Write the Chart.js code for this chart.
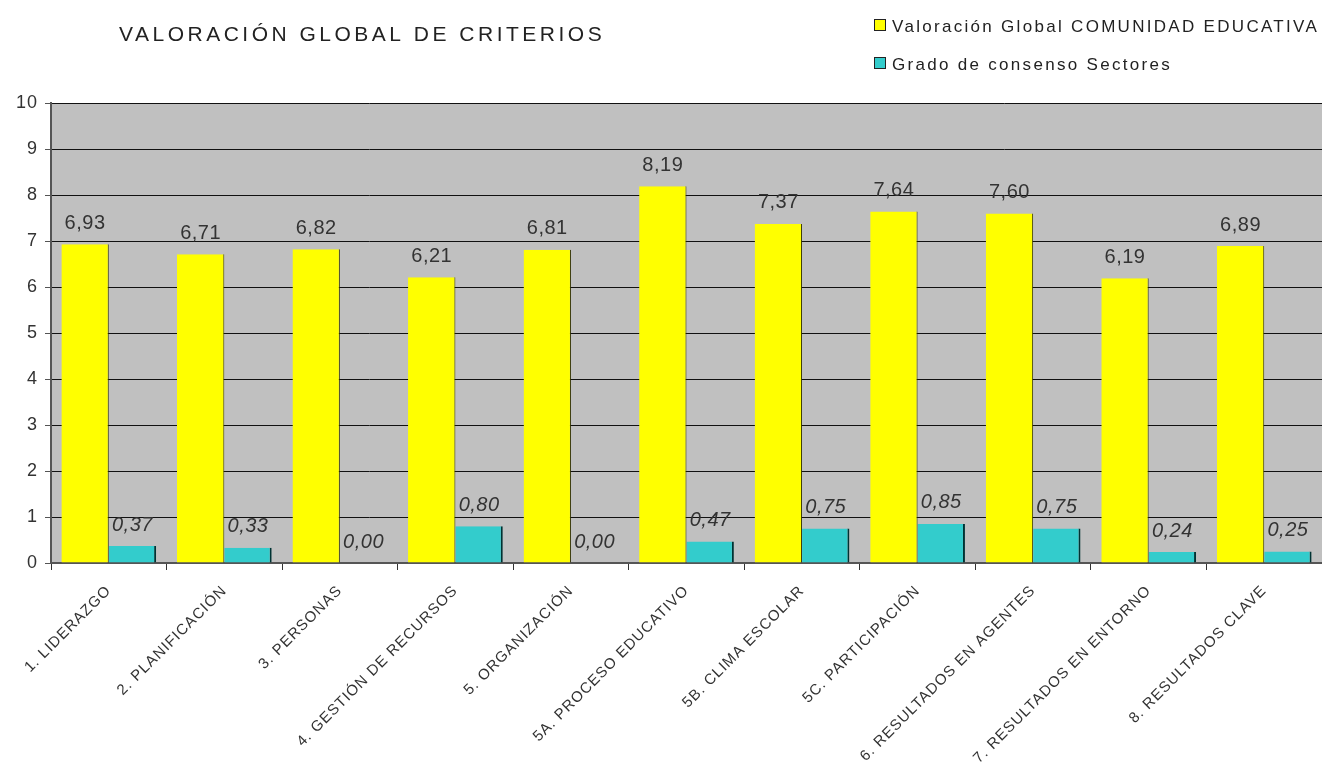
<!DOCTYPE html>
<html>
<head>
<meta charset="utf-8">
<script src="https://cdn.jsdelivr.net/npm/chart.js@4"></script>
<style>
  html, body { margin: 0; padding: 0; background: #fff; }
  #wrap { width: 1322px; height: 781px; }
</style>
</head>
<body>
<div id="wrap"><canvas id="grafico" width="1322" height="781"></canvas></div>
<script>
// Datos del gráfico
const criterios = ['1. LIDERAZGO', '2. PLANIFICACIÓN', '3. PERSONAS', '4. GESTIÓN DE RECURSOS',
    '5. ORGANIZACIÓN', '5A. PROCESO EDUCATIVO', '5B. CLIMA ESCOLAR', '5C. PARTICIPACIÓN',
    '6. RESULTADOS EN AGENTES', '7. RESULTADOS EN ENTORNO', '8. RESULTADOS CLAVE'];
const valoracionGlobal = [6.93, 6.71, 6.82, 6.21, 6.81, 8.19, 7.37, 7.64, 7.60, 6.19, 6.89];
const gradoConsenso = [0.37, 0.33, 0.00, 0.80, 0.00, 0.47, 0.75, 0.85, 0.75, 0.24, 0.25];
const ticksY = [0, 1, 2, 3, 4, 5, 6, 7, 8, 9, 10];

const tituloTexto = 'VALORACIÓN GLOBAL DE CRITERIOS';
const fuente = "'Liberation Sans', Arial, sans-serif";

// Espaciado de letras para los textos de los ejes
const espaciadoPlugin = {
    id: 'espaciado',
    beforeInit(chart) { chart.ctx.letterSpacing = '1px'; },
    beforeUpdate(chart) { chart.ctx.letterSpacing = '1px'; },
    beforeDraw(chart) { chart.ctx.letterSpacing = '1px'; }
};

// Fondo gris del área de trazado
const fondoPlugin = {
    id: 'fondo',
    beforeDraw(chart) {
        const a = chart.chartArea;
        const ctx = chart.ctx;
        ctx.save();
        ctx.fillStyle = '#c0c0c0';
        ctx.fillRect(a.left, a.top, a.right - a.left, a.bottom - a.top);
        ctx.restore();
    }
};

// Etiquetas de valor encima de las barras
const etiquetasPlugin = {
    id: 'etiquetas',
    afterDatasetsDraw(chart) {
        const ctx = chart.ctx;
        ctx.save();
        ctx.letterSpacing = '0.5px';
        chart.data.datasets.forEach((ds, i) => {
            const meta = chart.getDatasetMeta(i);
            ctx.font = (i === 1 ? 'italic ' : '') + '20px ' + fuente;
            ctx.fillStyle = '#333';
            ctx.textAlign = 'center';
            ctx.textBaseline = 'middle';
            meta.data.forEach((bar, j) => {
                const txt = ds.data[j].toFixed(2).replace('.', ',');
                ctx.fillText(txt, bar.x, bar.y - 21);
            });
        });
        ctx.restore();
    }
};

// Título y leyenda dibujados a mano (leyenda en dos filas)
const cabeceraPlugin = {
    id: 'cabecera',
    afterDraw(chart) {
        const ctx = chart.ctx;
        ctx.save();
        ctx.fillStyle = '#222';
        ctx.font = '21px ' + fuente;
        ctx.letterSpacing = '3.5px';
        ctx.textAlign = 'left';
        ctx.textBaseline = 'middle';
        ctx.fillText(tituloTexto, 119, 35);

        ctx.font = '17px ' + fuente;
        ctx.letterSpacing = '2.3px';
        chart.data.datasets.forEach((ds, i) => {
            const y = 26 + i * 38;
            ctx.fillStyle = ds.backgroundColor;
            ctx.fillRect(874, y - 7, 12, 12);
            ctx.strokeStyle = '#222';
            ctx.lineWidth = 1;
            ctx.strokeRect(874.5, y - 6.5, 11, 11);
            ctx.fillStyle = '#222';
            ctx.fillText(ds.label, 892, y + 1);
        });
        ctx.restore();
    }
};

const ctx = document.getElementById('grafico').getContext('2d');
new Chart(ctx, {
    type: 'bar',
    data: {
        labels: criterios,
        datasets: [{
            label: 'Valoración Global COMUNIDAD EDUCATIVA',
            data: valoracionGlobal,
            backgroundColor: '#ffff00',
            borderColor: '#333300',
            borderWidth: { top: 0, left: 0, bottom: 0, right: 1 },
            borderSkipped: false
        }, {
            label: 'Grado de consenso Sectores',
            data: gradoConsenso,
            backgroundColor: '#33cccc',
            borderColor: '#003333',
            borderWidth: { top: 0, left: 0, bottom: 0, right: 2 },
            borderSkipped: false
        }]
    },
    options: {
        responsive: false,
        animation: false,
        layout: { padding: { top: 103, right: 0, left: 0, bottom: 0 } },
        datasets: {
            bar: { categoryPercentage: 0.82, barPercentage: 1.0 }
        },
        plugins: {
            legend: { display: false },
            title: { display: false },
            tooltip: { enabled: false }
        },
        scales: {
            y: {
                min: 0,
                max: 10,
                afterFit(scale) { scale.width = 51; },
                afterBuildTicks(scale) { scale.ticks = ticksY.map(v => ({ value: v })); },
                grid: { color: '#111', lineWidth: 1, tickLength: 6, tickColor: '#555' },
                border: { color: '#555', width: 2 },
                ticks: { color: '#333', padding: 7, font: { family: fuente, size: 18 } }
            },
            x: {
                afterFit(scale) { scale.height = 218; },
                grid: { display: true, drawOnChartArea: false, offset: true, tickLength: 7, tickColor: '#333' },
                border: { color: '#555', width: 2 },
                ticks: {
                    color: '#333',
                    minRotation: 45,
                    maxRotation: 45,
                    autoSkip: false,
                    padding: 12,
                    font: { family: fuente, size: 15 }
                }
            }
        }
    },
    plugins: [espaciadoPlugin, fondoPlugin, etiquetasPlugin, cabeceraPlugin]
});
</script>
</body>
</html>
